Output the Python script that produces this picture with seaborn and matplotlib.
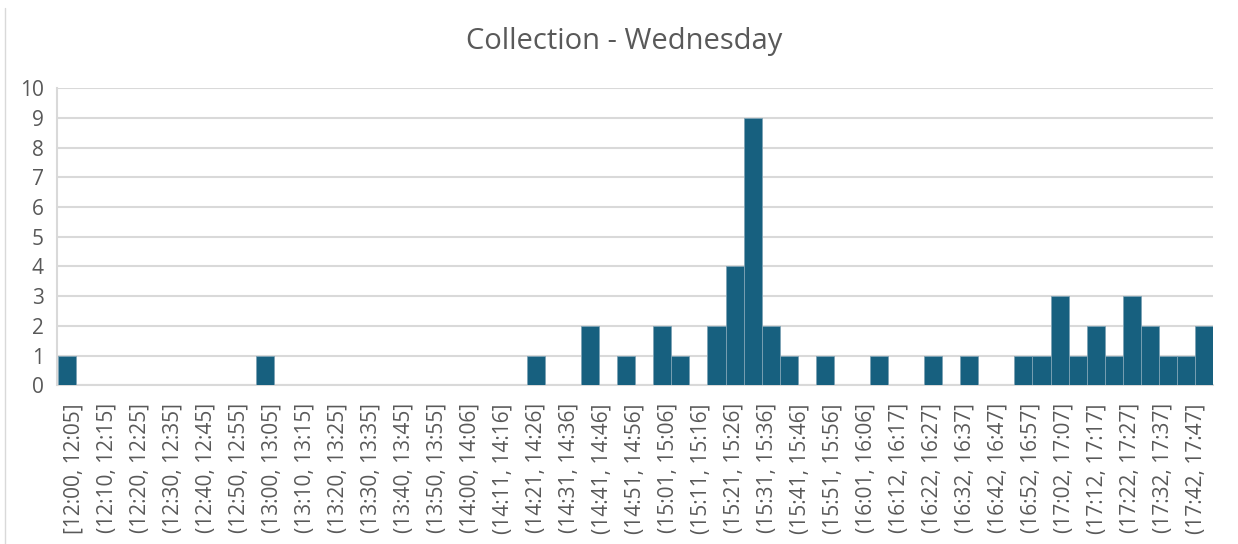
import numpy as np
import pandas as pd
import matplotlib
matplotlib.use('Agg')
import matplotlib.pyplot as plt
from matplotlib.lines import Line2D
import seaborn as sns

# Số lượng theo từng bin (64 bin)
counts = [1, 0, 0, 0, 0, 0, 0, 0, 0, 0, 0, 1, 0, 0, 0, 0,
          0, 0, 0, 0, 0, 0, 0, 0, 0, 0, 1, 0, 0, 2, 0, 1,
          0, 2, 1, 0, 2, 4, 9, 2, 1, 0, 1, 0, 0, 1, 0, 0,
          1, 0, 1, 0, 0, 1, 1, 3, 1, 2, 1, 3, 2, 1, 1, 2]

# Nhãn trục x (Excel chỉ hiện các nhãn này)
bin_labels = ['[12:00, 12:05]', '(12:10, 12:15]', '(12:20, 12:25]', '(12:30, 12:35]',
              '(12:40, 12:45]', '(12:50, 12:55]', '(13:00, 13:05]', '(13:10, 13:15]',
              '(13:20, 13:25]', '(13:30, 13:35]', '(13:40, 13:45]', '(13:50, 13:55]',
              '(14:00, 14:06]', '(14:11, 14:16]', '(14:21, 14:26]', '(14:31, 14:36]',
              '(14:41, 14:46]', '(14:51, 14:56]', '(15:01, 15:06]', '(15:11, 15:16]',
              '(15:21, 15:26]', '(15:31, 15:36]', '(15:41, 15:46]', '(15:51, 15:56]',
              '(16:01, 16:06]', '(16:12, 16:17]', '(16:22, 16:27]', '(16:32, 16:37]',
              '(16:42, 16:47]', '(16:52, 16:57]', '(17:02, 17:07]', '(17:12, 17:17]',
              '(17:22, 17:27]', '(17:32, 17:37]', '(17:42, 17:47]']

df = pd.DataFrame({'bin': np.arange(len(counts)), 'count': counts})

sns.set_theme(style="white")
plt.rcParams['font.family'] = ['Open Sans', 'DejaVu Sans']

text_color = '#595959'
grid_color = '#d9d9d9'

fig = plt.figure(figsize=(12.38, 5.44), dpi=100)
ax = fig.add_axes([57.5 / 1238, 1 - 385.3 / 544, (1213 - 57.5) / 1238, 297 / 544])

sns.barplot(data=df, x='bin', y='count', color='#17607f', saturation=1,
            width=1, edgecolor='#7ea3b5', linewidth=0.6, ax=ax, zorder=3)

ax.set_xlim(-0.5, len(counts) - 0.5)
ax.set_ylim(0, 10)
ax.set_yticks(range(0, 11))
ax.yaxis.grid(True, color=grid_color, linewidth=1.5, zorder=0)
ax.set_axisbelow(True)
ax.set_xticks([])
ax.set_xlabel('')
ax.set_ylabel('')
ax.tick_params(axis='y', length=0, pad=10, labelsize=15, labelcolor=text_color)
for s in ['top', 'right']:
    ax.spines[s].set_visible(False)
for s in ['left', 'bottom']:
    ax.spines[s].set_color(grid_color)
    ax.spines[s].set_linewidth(1.5)

# Trục phụ cho nhãn bin
ax2 = ax.twiny()
ax2.set_xlim(-0.5, len(bin_labels) - 0.5)
ax2.set_xticks(range(len(bin_labels)))
ax2.set_xticklabels(bin_labels, rotation=90)
ax2.xaxis.set_ticks_position('bottom')
ax2.xaxis.set_label_position('bottom')
ax2.tick_params(axis='x', length=0, pad=13, labelsize=15, labelcolor=text_color)
for s in ax2.spines.values():
    s.set_visible(False)

fig.text(0.504, 1 - 49 / 544, 'Collection - Wednesday', ha='center', va='baseline',
         fontsize=21, color=text_color)

fig.add_artist(Line2D([5 / 1238, 5 / 1238], [0, 1 - 8 / 544], color=grid_color, linewidth=1))

fig.savefig('out.png', dpi=100)
